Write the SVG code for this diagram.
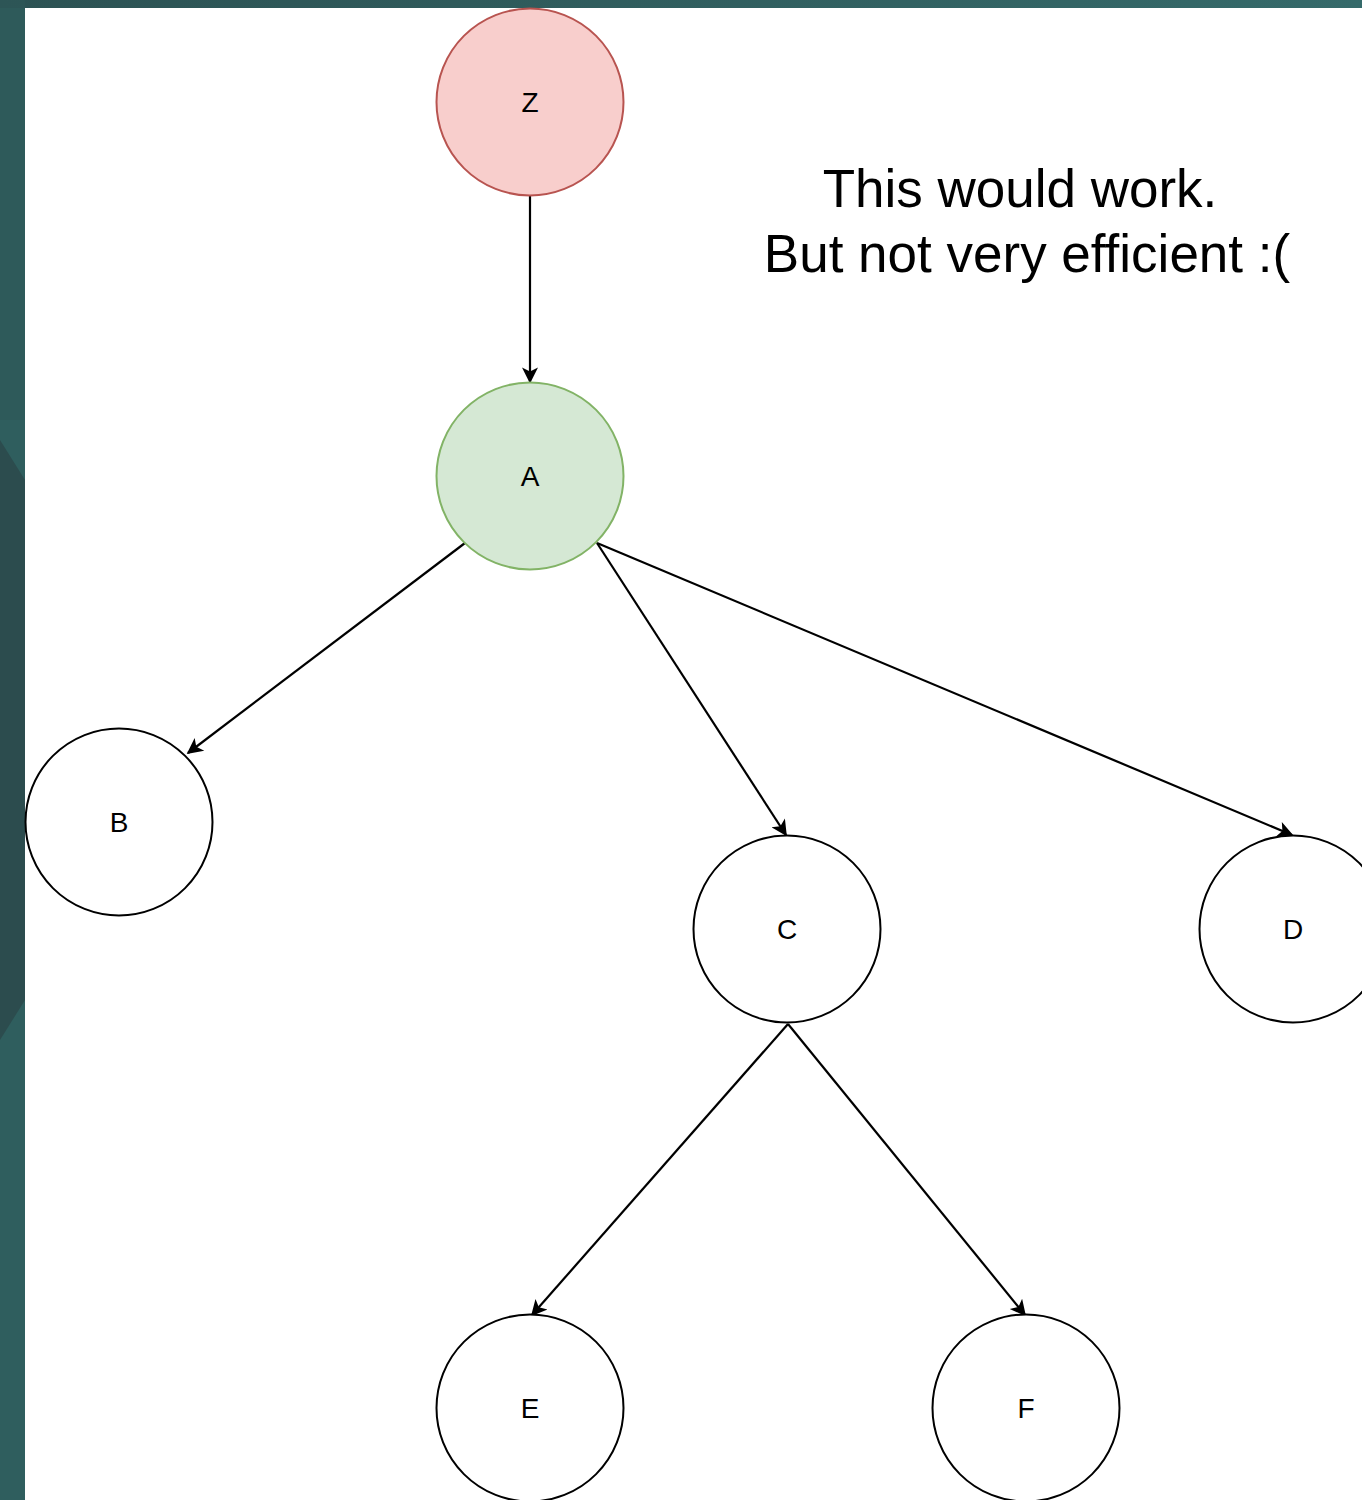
<svg xmlns="http://www.w3.org/2000/svg" width="1362" height="1500" viewBox="0 0 1362 1500">
  <defs>
    <marker id="arrow" viewBox="0 0 10 10" refX="9" refY="5" markerWidth="18" markerHeight="16" markerUnits="userSpaceOnUse" orient="auto">
      <path d="M0,0 L10,5 L0,10 L2.5,5 Z" fill="#000"/>
    </marker>
    <linearGradient id="topband" x1="0" y1="0" x2="1" y2="0">
      <stop offset="0" stop-color="#2c5253"/>
      <stop offset="1" stop-color="#356a6a"/>
    </linearGradient>
  </defs>
  <style>
    .node circle { stroke-width: 2; }
    .plain circle { fill: #ffffff; stroke: #000000; }
    .label { font-family: "Liberation Sans", Arial, sans-serif; font-size: 28px; fill: #000; text-anchor: middle; dominant-baseline: central; }
    .edge { stroke: #000; stroke-width: 2.2; fill: none; marker-end: url(#arrow); }
    .note { font-family: "Liberation Sans", Arial, sans-serif; font-size: 53px; fill: #000; text-anchor: middle; }
  </style>

  <!-- slide frame -->
  <rect x="0" y="0" width="1362" height="1500" fill="#2f5e5e"/>
  <rect x="0" y="0" width="1362" height="8" fill="url(#topband)"/>
  <polygon points="0,440 25,480 25,1000 0,1040" fill="#2c4c4e"/>
  <rect x="0" y="0" width="25" height="420" fill="#2e5858" opacity="0.6"/>
  <rect x="25" y="8" width="1337" height="1492" fill="#ffffff"/>

  <!-- connectors -->
  <g id="edges">
    <line class="edge" x1="530" y1="196" x2="530" y2="382"/>
    <line class="edge" x1="465" y1="543" x2="188" y2="753"/>
    <line class="edge" x1="597" y1="543" x2="786" y2="835"/>
    <line class="edge" x1="597" y1="543" x2="1292" y2="835"/>
    <line class="edge" x1="788" y1="1024" x2="532" y2="1315"/>
    <line class="edge" x1="788" y1="1024" x2="1025" y2="1315"/>
  </g>

  <!-- nodes -->
  <g id="node-Z" class="node">
    <circle cx="530" cy="102" r="93.5" fill="#f8cecc" stroke="#b85450"/>
    <text class="label" x="530" y="102">Z</text>
  </g>
  <g id="node-A" class="node">
    <circle cx="530" cy="476" r="93.5" fill="#d5e8d4" stroke="#82b366"/>
    <text class="label" x="530" y="476">A</text>
  </g>
  <g id="node-B" class="node plain">
    <circle cx="119" cy="822" r="93.5"/>
    <text class="label" x="119" y="822">B</text>
  </g>
  <g id="node-C" class="node plain">
    <circle cx="787" cy="929" r="93.5"/>
    <text class="label" x="787" y="929">C</text>
  </g>
  <g id="node-D" class="node plain">
    <circle cx="1293" cy="929" r="93.5"/>
    <text class="label" x="1293" y="929">D</text>
  </g>
  <g id="node-E" class="node plain">
    <circle cx="530" cy="1408" r="93.5"/>
    <text class="label" x="530" y="1408">E</text>
  </g>
  <g id="node-F" class="node plain">
    <circle cx="1026" cy="1408" r="93.5"/>
    <text class="label" x="1026" y="1408">F</text>
  </g>

  <!-- note -->
  <g id="note">
    <text class="note" x="1020" y="207">This would work.</text>
    <text class="note" x="1027" y="272">But not very efficient :(</text>
  </g>
</svg>
